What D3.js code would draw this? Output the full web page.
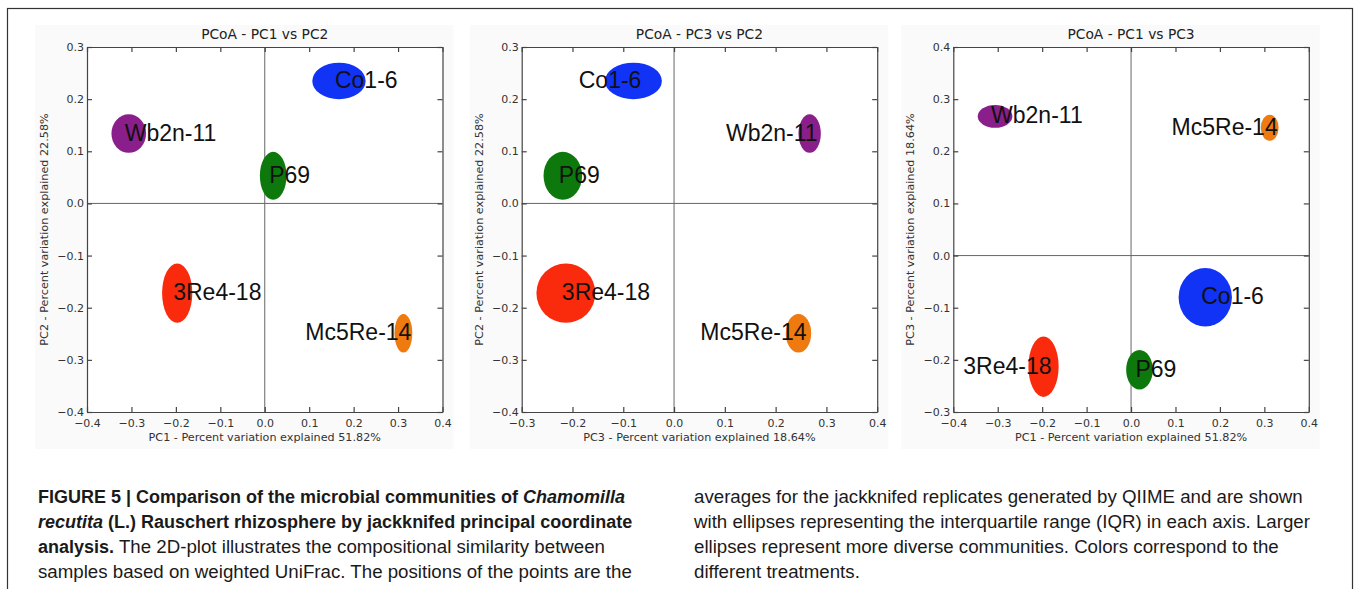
<!DOCTYPE html>
<html>
<head>
<meta charset="utf-8">
<script src="https://cdnjs.cloudflare.com/ajax/libs/d3/7.8.5/d3.min.js"></script>
<style>
  body { margin: 0; background: #fff; }
  svg { display: block; }
</style>
</head>
<body>
<script>
// jackknifed PCoA averages per sample
const samples = ['Co1-6', 'Wb2n-11', 'P69', '3Re4-18', 'Mc5Re-14'];
const pc1 = [0.167, -0.306, 0.019, -0.197, 0.312];
const pc2 = [0.235, 0.134, 0.053, -0.172, -0.249];
const pc3 = [-0.080, 0.267, -0.219, -0.213, 0.245];
// half of the interquartile range on each axis (ellipse semi-axes)
const iqr1 = [0.060, 0.039, 0.030, 0.034, 0.020];
const iqr2 = [0.035, 0.037, 0.046, 0.057, 0.037];
const iqr3 = [0.056, 0.022, 0.038, 0.058, 0.025];
const colours = ['#1133f6', '#8a1f8c', '#0d790d', '#f92b0c', '#ef7a10'];

const pcNames = ['PC1', 'PC2', 'PC3'];
const pcExplained = ['51.82%', '22.58%', '18.64%'];
const panelAxes = [[0, 1], [2, 1], [0, 2]];
const xDomains = [[-0.4, 0.4], [-0.3, 0.4], [-0.4, 0.4]];
const yDomains = [[-0.4, 0.3], [-0.4, 0.3], [-0.3, 0.4]];
const xTickValues = [
  [-0.4, -0.3, -0.2, -0.1, 0.0, 0.1, 0.2, 0.3, 0.4],
  [-0.3, -0.2, -0.1, 0.0, 0.1, 0.2, 0.3, 0.4],
  [-0.4, -0.3, -0.2, -0.1, 0.0, 0.1, 0.2, 0.3, 0.4],
];
const yTickValues = [
  [-0.4, -0.3, -0.2, -0.1, 0.0, 0.1, 0.2, 0.3],
  [-0.4, -0.3, -0.2, -0.1, 0.0, 0.1, 0.2, 0.3],
  [-0.3, -0.2, -0.1, 0.0, 0.1, 0.2, 0.3, 0.4],
];
// labels that sit to the left of their ellipse in each panel
const endLabels = [['Mc5Re-14'], ['Co1-6', 'Wb2n-11', 'Mc5Re-14'], ['Mc5Re-14', '3Re4-18']];

const captionLeft = [
  [['FIGURE 5 | Comparison of the microbial communities of ', 'b'], ['Chamomilla', 'bi']],
  [['recutita', 'bi'], [' (L.) Rauschert rhizosphere by jackknifed principal coordinate', 'b']],
  [['analysis.', 'b'], [' The 2D-plot illustrates the compositional similarity between', 'n']],
  [['samples based on weighted UniFrac. The positions of the points are the', 'n']],
];
const captionRight = [
  [['averages for the jackknifed replicates generated by QIIME and are shown', 'n']],
  [['with ellipses representing the interquartile range (IQR) in each axis. Larger', 'n']],
  [['ellipses represent more diverse communities. Colors correspond to the', 'n']],
  [['different treatments.', 'n']],
];

const means = [pc1, pc2, pc3];
const halfIqr = [iqr1, iqr2, iqr3];

const svg = d3.select('body')
  .append('svg')
  .attr('width', 1354)
  .attr('height', 589);

svg.append('rect')
  .attr('x', 7.5).attr('y', 8.5)
  .attr('width', 1345).attr('height', 600)
  .attr('fill', '#fff')
  .attr('stroke', '#333')
  .attr('stroke-width', 1.2);

const plotLefts = [87, 521.7, 953.3];
const plotTop = 47;
const plotW = 355.5;
const plotH = 365;
const fmt = d3.format('.1f');

panelAxes.forEach((axes, i) => drawPanel(i, axes[0], axes[1]));

function drawPanel (i, xi, yi) {
  const g = svg.append('g')
    .attr('transform', `translate(${plotLefts[i]} ${plotTop})`);

  g.append('rect')
    .attr('x', -52).attr('y', -22)
    .attr('width', plotW + 63).attr('height', plotH + 59)
    .attr('fill', '#fafafa');
  g.append('rect')
    .attr('width', plotW).attr('height', plotH)
    .attr('fill', '#fff');

  const x = d3.scaleLinear().domain(xDomains[i]).range([0, plotW]);
  const y = d3.scaleLinear().domain(yDomains[i]).range([plotH, 0]);

  g.append('line')
    .attr('x1', x(0)).attr('x2', x(0))
    .attr('y1', 0).attr('y2', plotH)
    .attr('stroke', '#666').attr('stroke-width', 1);
  g.append('line')
    .attr('x1', 0).attr('x2', plotW)
    .attr('y1', y(0)).attr('y2', y(0))
    .attr('stroke', '#666').attr('stroke-width', 1);

  const idx = d3.range(samples.length);
  g.selectAll('.ell')
    .data(idx)
    .enter()
      .append('ellipse')
      .attr('class', 'ell')
      .attr('cx', d => x(means[xi][d]))
      .attr('cy', d => y(means[yi][d]))
      .attr('rx', d => x(means[xi][d] + halfIqr[xi][d]) - x(means[xi][d]))
      .attr('ry', d => y(means[yi][d]) - y(means[yi][d] + halfIqr[yi][d]))
      .attr('fill', d => colours[d]);

  g.selectAll('.lab')
    .data(idx)
    .enter()
      .append('text')
      .attr('class', 'lab')
      .attr('x', d => x(means[xi][d]) + (endLabels[i].includes(samples[d]) ? 8 : -4))
      .attr('y', d => y(means[yi][d]) + 7)
      .attr('text-anchor', d => endLabels[i].includes(samples[d]) ? 'end' : 'start')
      .attr('font-family', '"Liberation Sans", Arial, sans-serif')
      .attr('font-size', 23)
      .attr('fill', '#111')
      .text(d => samples[d]);

  const styleAxis = (sel) => {
    sel.attr('font-family', '"DejaVu Sans", sans-serif').attr('font-size', 11);
    sel.selectAll('path, line').attr('stroke', '#444').attr('stroke-width', 1.2);
    sel.selectAll('text').attr('fill', '#333');
  };

  g.append('g')
    .attr('transform', `translate(0 ${plotH})`)
    .call(d3.axisBottom(x).tickValues(xTickValues[i]).tickFormat(fmt)
      .tickSizeInner(-5).tickSizeOuter(0).tickPadding(7))
    .call(styleAxis);
  g.append('g')
    .call(d3.axisTop(x).tickValues(xTickValues[i]).tickFormat('')
      .tickSizeInner(-5).tickSizeOuter(0))
    .call(styleAxis);
  g.append('g')
    .call(d3.axisLeft(y).tickValues(yTickValues[i]).tickFormat(fmt)
      .tickSizeInner(-5).tickSizeOuter(0).tickPadding(3))
    .call(styleAxis);
  g.append('g')
    .attr('transform', `translate(${plotW} 0)`)
    .call(d3.axisRight(y).tickValues(yTickValues[i]).tickFormat('')
      .tickSizeInner(-5).tickSizeOuter(0))
    .call(styleAxis);

  g.append('text')
    .attr('x', plotW / 2)
    .attr('y', -8)
    .attr('text-anchor', 'middle')
    .attr('font-family', '"DejaVu Sans", sans-serif')
    .attr('font-size', 13.8)
    .attr('fill', '#222')
    .text(`PCoA - ${pcNames[xi]} vs ${pcNames[yi]}`);

  g.append('text')
    .attr('x', plotW / 2)
    .attr('y', plotH + 29)
    .attr('text-anchor', 'middle')
    .attr('font-family', '"DejaVu Sans", sans-serif')
    .attr('font-size', 11.2)
    .attr('fill', '#333')
    .text(`${pcNames[xi]} - Percent variation explained ${pcExplained[xi]}`);

  g.append('text')
    .attr('transform', `translate(-39 ${plotH / 2}) rotate(-90)`)
    .attr('text-anchor', 'middle')
    .attr('font-family', '"DejaVu Sans", sans-serif')
    .attr('font-size', 11.2)
    .attr('fill', '#333')
    .text(`${pcNames[yi]} - Percent variation explained ${pcExplained[yi]}`);
}

function drawCaption (lines, x0) {
  lines.forEach((parts, k) => {
    const t = svg.append('text')
      .attr('x', x0)
      .attr('y', 503 + k * 24.9)
      .attr('font-family', '"Liberation Sans", Arial, sans-serif')
      .attr('fill', '#1a1a1a');
    parts.forEach(p => {
      const bold = p[1].includes('b');
      t.append('tspan')
        .attr('font-size', bold ? 18 : 18.7)
        .attr('font-weight', bold ? 'bold' : 'normal')
        .attr('font-style', p[1].includes('i') ? 'italic' : 'normal')
        .text(p[0]);
    });
  });
}

drawCaption(captionLeft, 38);
drawCaption(captionRight, 694);
</script>
</body>
</html>
